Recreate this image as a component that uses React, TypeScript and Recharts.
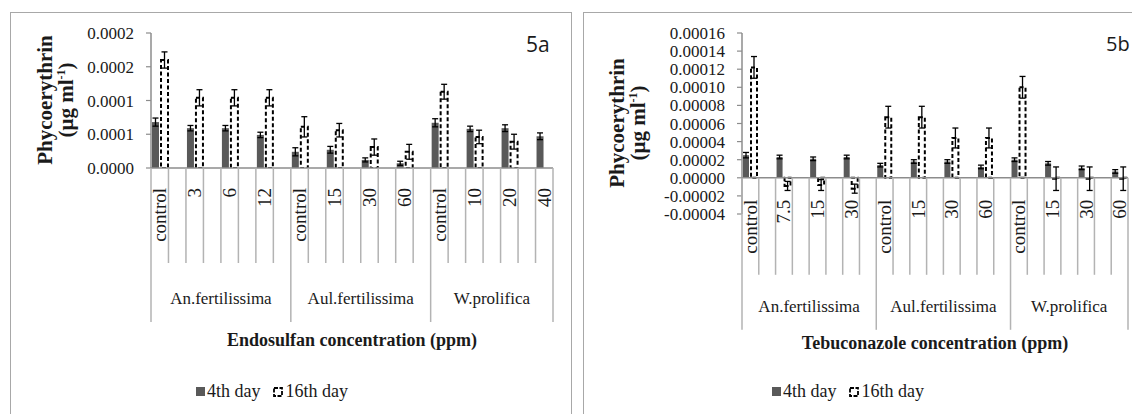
import React from 'react';
import { BarChart, Bar, XAxis, YAxis, ErrorBar, ReferenceLine } from 'recharts';

// ---------- data ----------
const groups = ['An.fertilissima', 'Aul.fertilissima', 'W.prolifica'];

// 5a – Endosulfan
const endoConc = [
  ['control', '3', '6', '12'],
  ['control', '15', '30', '60'],
  ['control', '10', '20', '40'],
];
const endoDay4 = [0.000068, 0.000059, 0.000059, 0.000049, 0.000024, 0.000027, 0.000012, 0.000007, 0.000067, 0.000058, 0.000059, 0.000047];
const endoDay4Err = [0.000006, 0.000004, 0.000004, 0.000004, 0.000006, 0.000005, 0.000003, 0.000003, 0.000006, 0.000004, 0.000005, 0.000005];
const endoDay16 = [0.00016, 0.000104, 0.000104, 0.000104, 0.000061, 0.000056, 0.000031, 0.000024, 0.000113, 0.000046, 0.000039, null];
const endoDay16Err = [0.000012, 0.000012, 0.000012, 0.000012, 0.000015, 0.00001, 0.000012, 0.000011, 0.000011, 0.00001, 0.000011, null];
const endoTicks = [0, 0.00005, 0.0001, 0.00015, 0.0002];
const endoTickLabels = ['0.0000', '0.0001', '0.0001', '0.0002', '0.0002'];

// 5b – Tebuconazole
const tebuConc = [
  ['control', '7.5', '15', '30'],
  ['control', '15', '30', '60'],
  ['control', '15', '30', '60'],
];
const tebuDay4 = [0.000025, 0.000023, 0.000021, 0.000023, 0.000014, 0.000018, 0.000018, 0.000012, 0.00002, 0.000016, 0.000011, 0.000007];
const tebuDay4Err = [0.000003, 0.000002, 0.000002, 0.000002, 0.000002, 0.000002, 0.000002, 0.000002, 0.000002, 0.000002, 0.000002, 0.000002];
const tebuDay16 = [0.000122, -0.000009, -0.000008, -0.000012, 0.000067, 0.000067, 0.000044, 0.000044, 0.0001, -0.000001, -0.000001, -0.000001];
const tebuDay16Err = [0.000012, 0.000005, 0.000006, 0.000005, 0.000012, 0.000012, 0.000011, 0.000011, 0.000012, 0.000013, 0.000013, 0.000013];
const tebuTicks = [-0.00004, -0.00002, 0, 0.00002, 0.00004, 0.00006, 0.00008, 0.0001, 0.00012, 0.00014, 0.00016];

const SERIF = "'Liberation Serif', Tinos, 'Times New Roman', Times, 'DejaVu Serif', serif";
const TEXT = '#1a1a1a';
const AXIS = '#8c8c8c';
const CAT_LINE = '#b3b3b3';
const DARK = '#595959';

// each concentration gets its own slot followed by an empty spacer slot (Excel-like layout)
function buildRows(conc, d4, d4e, d16, d16e) {
  const rows: any[] = [];
  const total = conc.flat().length;
  let k = 0;
  conc.forEach((list, gi) => {
    list.forEach((c, ci) => {
      rows.push({ key: `c${k}`, label: c, group: gi, first: ci === 0, d4: d4[k], d4e: d4e[k], d16: d16[k], d16e: d16e[k] });
      if (k < total - 1) {
        rows.push({ key: `s${k}`, label: '', group: gi, first: false, d4: null, d4e: null, d16: null, d16e: null });
      }
      k++;
    });
  });
  return rows;
}

function makeCategoryTick(rows, cfg) {
  return (props: any) => {
    const { x, y, payload } = props;
    const idx = rows.findIndex((r) => r.key === payload.value);
    if (idx < 0) return null;
    const row = rows[idx];
    const bw = cfg.bandWidth;
    const y0 = y - cfg.zeroShift;
    const left = x - bw / 2;
    const isLast = idx === rows.length - 1;
    const groupCount = rows.filter((r) => r.group === row.group).length;
    return (
      <g>
        <line x1={left} x2={left} y1={y0} y2={y0 + (row.first ? cfg.longLen : cfg.shortLen)} stroke={CAT_LINE} strokeWidth={1.5} />
        {isLast && (
          <line x1={x + bw / 2} x2={x + bw / 2} y1={y0} y2={y0 + cfg.longLen} stroke={CAT_LINE} strokeWidth={1.5} />
        )}
        {row.label && (
          <text
            transform={`translate(${x},${y0 + cfg.labelGap}) rotate(-90)`}
            textAnchor="end"
            dominantBaseline="central"
            style={{ fontFamily: SERIF }}
            fontSize={19}
            fill={TEXT}
          >
            {row.label}
          </text>
        )}
        {row.first && (
          <text
            x={left + (groupCount * bw) / 2}
            y={y0 + cfg.groupDy}
            textAnchor="middle"
            dominantBaseline="central"
            style={{ fontFamily: SERIF }}
            fontSize={17}
            fill={TEXT}
          >
            {groups[row.group]}
          </text>
        )}
      </g>
    );
  };
}

function PanelChart({ rows, plotLeft, plotRight, plotTop, plotBottom, axisHeight, domain, ticks, tickFormatter, tickFont, tickMargin, zeroShift, cfg }) {
  const W = 1132;
  const H = 414;
  const yAxisWidth = 60;
  const bandWidth = (plotRight - plotLeft) / rows.length;
  const renderTick = makeCategoryTick(rows, { ...cfg, bandWidth, zeroShift });
  return (
    <div style={{ position: 'absolute', left: 0, top: 0 }}>
      <BarChart
        width={W}
        height={H}
        data={rows}
        margin={{ top: plotTop, left: plotLeft - yAxisWidth, right: W - plotRight, bottom: H - plotBottom - axisHeight }}
        barCategoryGap={1}
        barGap={2}
      >
        <XAxis
          dataKey="key"
          height={axisHeight}
          interval={0}
          tickLine={false}
          axisLine={false}
          tickSize={0}
          tickMargin={0}
          tick={renderTick}
        />
        <YAxis
          width={yAxisWidth}
          domain={domain}
          ticks={ticks}
          allowDataOverflow
          interval={0}
          tickSize={5}
          tickMargin={tickMargin}
          axisLine={{ stroke: AXIS, strokeWidth: 1.5 }}
          tickLine={{ stroke: AXIS, strokeWidth: 1.2 }}
          tick={{ fill: TEXT, fontSize: tickFont, style: { fontFamily: SERIF } }}
          tickFormatter={tickFormatter}
        />
        <ReferenceLine y={0} stroke={AXIS} strokeWidth={1.5} />
        <Bar dataKey="d4" fill={DARK} isAnimationActive={false}>
          <ErrorBar dataKey="d4e" width={3} stroke="#000" strokeWidth={1.3} />
        </Bar>
        <Bar dataKey="d16" fill="#fff" stroke="#000" strokeWidth={2} strokeDasharray="4 2.5" isAnimationActive={false}>
          <ErrorBar dataKey="d16e" width={3} stroke="#000" strokeWidth={1.3} />
        </Bar>
      </BarChart>
    </div>
  );
}

function LegendBox({ left, top }) {
  return (
    <div style={{ position: 'absolute', left, top, display: 'flex', alignItems: 'center', fontFamily: SERIF, fontSize: 18, color: TEXT, whiteSpace: 'nowrap' }}>
      <svg width={9} height={9} style={{ marginRight: 2 }}>
        <rect x={0} y={0} width={9} height={9} fill={DARK} />
      </svg>
      <span>4th day</span>
      <svg width={10} height={10} style={{ marginLeft: 12, marginRight: 3 }}>
        <rect x={1} y={1} width={8} height={8} fill="#fff" stroke="#000" strokeWidth={1.8} strokeDasharray="4 1.5" />
      </svg>
      <span>16th day</span>
    </div>
  );
}

function Centered({ x, y, children, style = {} }: any) {
  return (
    <div style={{ position: 'absolute', left: x, top: y, transform: 'translate(-50%, -50%)', whiteSpace: 'nowrap', fontFamily: SERIF, color: TEXT, ...style }}>
      {children}
    </div>
  );
}

function YTitle({ x, y }) {
  const rot = { fontWeight: 'bold', fontSize: 21, transform: 'translate(-50%, -50%) rotate(-90deg)' };
  return (
    <>
      <Centered x={x} y={y} style={rot}>Phycoerythrin</Centered>
      <Centered x={x + 21} y={y} style={rot}>
        (µg ml<sup style={{ fontSize: 12 }}>-1</sup>)
      </Centered>
    </>
  );
}

export default function App() {
  const endoRows = buildRows(endoConc, endoDay4, endoDay4Err, endoDay16, endoDay16Err);
  const tebuRows = buildRows(tebuConc, tebuDay4, tebuDay4Err, tebuDay16, tebuDay16Err);

  // right chart: category axis sits on the zero line, above the plot bottom
  const tebuTop = 33;
  const tebuBottom = 214;
  const tebuZeroShift = ((tebuBottom - tebuTop) * (0 - tebuTicks[0])) / (tebuTicks[tebuTicks.length - 1] - tebuTicks[0]);

  return (
    <div style={{ position: 'absolute', left: 0, top: 0, width: 1132, height: 414, overflow: 'hidden', background: '#fff' }}>
      {/* panel frames */}
      <div style={{ position: 'absolute', left: 10, top: 12, width: 560, height: 440, border: '1.5px solid #a8a8a8' }} />
      <div style={{ position: 'absolute', left: 583, top: 12, width: 600, height: 440, border: '1.5px solid #a8a8a8' }} />

      <PanelChart
        rows={endoRows}
        plotLeft={151}
        plotRight={553}
        plotTop={33}
        plotBottom={168}
        axisHeight={200}
        domain={[0, 0.0002]}
        ticks={endoTicks}
        tickFormatter={(v) => endoTickLabels[endoTicks.indexOf(v)]}
        tickFont={17}
        tickMargin={12}
        zeroShift={0}
        cfg={{ shortLen: 95, longLen: 154, labelGap: 20, groupDy: 130 }}
      />
      <PanelChart
        rows={tebuRows}
        plotLeft={742}
        plotRight={1128}
        plotTop={tebuTop}
        plotBottom={tebuBottom}
        axisHeight={180}
        domain={[tebuTicks[0], tebuTicks[tebuTicks.length - 1]]}
        ticks={tebuTicks}
        tickFormatter={(v) => v.toFixed(5)}
        tickFont={17}
        tickMargin={12}
        zeroShift={tebuZeroShift}
        cfg={{ shortLen: 97, longLen: 152, labelGap: 22, groupDy: 129 }}
      />

      <YTitle x={45} y={100} />
      <YTitle x={617} y={123} />

      <Centered x={352} y={340} style={{ fontWeight: 'bold', fontSize: 18 }}>Endosulfan concentration (ppm)</Centered>
      <Centered x={935} y={343} style={{ fontWeight: 'bold', fontSize: 18 }}>Tebuconazole concentration (ppm)</Centered>

      <LegendBox left={196} top={381} />
      <LegendBox left={772} top={381} />

      <div style={{ position: 'absolute', left: 526, top: 30, fontFamily: "'Open Sans', sans-serif", fontSize: 21, color: TEXT }}>5a</div>
      <div style={{ position: 'absolute', left: 1106, top: 30, fontFamily: "'Open Sans', sans-serif", fontSize: 20, color: TEXT }}>5b</div>
    </div>
  );
}
